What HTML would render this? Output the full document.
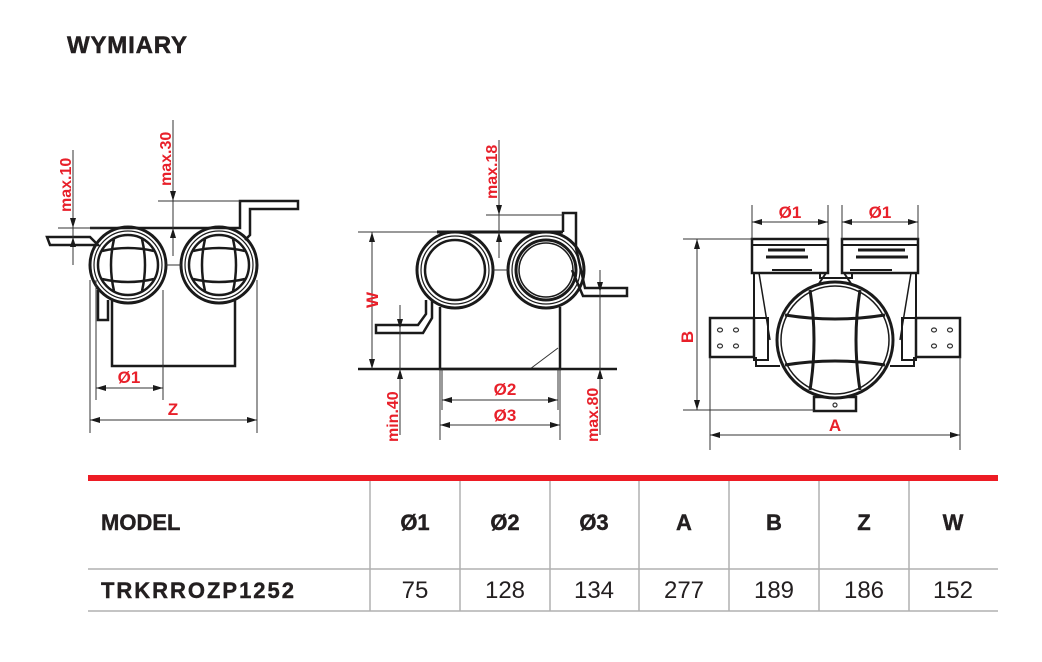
<!DOCTYPE html>
<html><head><meta charset="utf-8"><style>
html,body{margin:0;padding:0;background:#fff;width:1042px;height:662px;overflow:hidden}
svg{display:block}
.t{font-family:"Liberation Sans",sans-serif;font-weight:bold;fill:#e8202a}
.k{stroke:#1a1a1a;fill:none}
.d{stroke:#333;stroke-width:1;fill:none}
.th{font-family:"Liberation Sans",sans-serif;font-weight:bold;font-size:22px;fill:#231f20;stroke:#231f20;stroke-width:0.4}
.td{font-family:"Liberation Sans",sans-serif;font-size:24px;fill:#231f20}
</style></head><body>
<svg width="1042" height="662" viewBox="0 0 1042 662" xmlns="http://www.w3.org/2000/svg">
<defs>
<marker id="a" viewBox="0 0 10 6" refX="10" refY="3" markerWidth="10" markerHeight="6" orient="auto-start-reverse" markerUnits="userSpaceOnUse"><path d="M0,0L10,3L0,6z" fill="#1a1a1a"/></marker>
<g id="wheel">
<circle r="38" class="k" stroke-width="3"/>
<circle r="34" class="k" stroke-width="1.2"/>
<circle r="30" class="k" stroke-width="2.5"/>
<path d="M-14,-26Q-20,0 -14,26M14,-26Q20,0 14,26M-26,-14Q0,-20 26,-14M-26,14Q0,20 26,14" class="k" stroke-width="2.5"/>
</g>
</defs>
<text x="67" y="53" style="font-family:'Liberation Sans',sans-serif;font-weight:bold;font-size:24px;fill:#231f20;stroke:#231f20;stroke-width:0.5" textLength="120">WYMIARY</text>

<!-- Drawing 1 -->
<g>
<path d="M90,228H240V201H298V209H250V235L245,240" class="k" stroke-width="2.5"/>
<path d="M47,237H90L98,245H50Z" class="k" stroke-width="2.5"/>
<path d="M98,290V320H108V300" class="k" stroke-width="2.5"/>
<path d="M112,300V366H235V300" class="k" stroke-width="2.5"/>
<use href="#wheel" x="128" y="265"/>
<use href="#wheel" x="219" y="265"/>
<line x1="166" y1="265" x2="181" y2="265" class="d"/>
<line x1="73" y1="150" x2="73" y2="265" class="d"/>
<line x1="73" y1="212" x2="73" y2="228" class="d" marker-end="url(#a)"/>
<line x1="73" y1="258" x2="73" y2="237" class="d" marker-end="url(#a)"/>
<line x1="58" y1="228" x2="100" y2="228" class="d"/>
<line x1="173" y1="120" x2="173" y2="256" class="d"/>
<line x1="173" y1="185" x2="173" y2="201" class="d" marker-end="url(#a)"/>
<line x1="173" y1="248" x2="173" y2="228" class="d" marker-end="url(#a)"/>
<line x1="158" y1="201" x2="240" y2="201" class="d"/>
<text class="t" font-size="16" transform="translate(71,212) rotate(-90)">max.10</text>
<text class="t" font-size="16" transform="translate(171,186) rotate(-90)">max.30</text>
<line x1="90" y1="280" x2="90" y2="433" class="d"/>
<line x1="96" y1="280" x2="96" y2="400" class="d"/>
<line x1="163" y1="290" x2="163" y2="400" class="d"/>
<line x1="257" y1="280" x2="257" y2="433" class="d"/>
<line x1="96" y1="388" x2="163" y2="388" class="d" marker-start="url(#a)" marker-end="url(#a)"/>
<line x1="90" y1="420" x2="257" y2="420" class="d" marker-start="url(#a)" marker-end="url(#a)"/>
<text class="t" font-size="17" x="129" y="383" text-anchor="middle">Ø1</text>
<text class="t" font-size="17" x="173" y="415" text-anchor="middle">Z</text>
</g>

<!-- Drawing 2 -->
<g>
<path d="M437,232H563" class="k" stroke-width="3"/>
<path d="M563,232V213H576V248L585,288H627V296H583L572,270" class="k" stroke-width="2.5"/>
<path d="M432,300V318L423,333H376V325H418L426,314V300" class="k" stroke-width="2.5"/>
<path d="M440,307V369H560V307" class="k" stroke-width="2.5"/>
<line x1="530" y1="369" x2="558" y2="348" class="d"/>
<g transform="translate(455,270)"><circle r="38" class="k" stroke-width="3"/><circle r="34" class="k" stroke-width="1.2"/><circle r="30" class="k" stroke-width="2.5"/></g>
<g transform="translate(546,270)"><circle r="38" class="k" stroke-width="3"/><circle r="34" class="k" stroke-width="1.2"/><circle r="30" class="k" stroke-width="3"/><circle r="27" class="k" stroke-width="1.5"/></g>
<line x1="493" y1="270" x2="508" y2="270" class="d"/>
<line x1="358" y1="369" x2="617" y2="369" class="k" stroke-width="2.5"/>
<line x1="358" y1="232" x2="437" y2="232" class="d"/>
<line x1="372" y1="232" x2="372" y2="369" class="d" marker-start="url(#a)" marker-end="url(#a)"/>
<text class="t" font-size="17" transform="translate(378,300) rotate(-90)" text-anchor="middle">W</text>
<line x1="486" y1="215" x2="563" y2="215" class="d"/>
<line x1="499" y1="140" x2="499" y2="258" class="d"/>
<line x1="499" y1="200" x2="499" y2="215" class="d" marker-end="url(#a)"/>
<line x1="499" y1="250" x2="499" y2="232" class="d" marker-end="url(#a)"/>
<text class="t" font-size="16" transform="translate(497,199) rotate(-90)">max.18</text>
<line x1="400" y1="305" x2="400" y2="435" class="d"/>
<line x1="400" y1="315" x2="400" y2="329" class="d" marker-end="url(#a)"/>
<line x1="400" y1="385" x2="400" y2="369" class="d" marker-end="url(#a)"/>
<text class="t" font-size="16" transform="translate(398,442) rotate(-90)">min.40</text>
<line x1="600" y1="270" x2="600" y2="435" class="d"/>
<line x1="600" y1="280" x2="600" y2="292" class="d" marker-end="url(#a)"/>
<line x1="600" y1="385" x2="600" y2="369" class="d" marker-end="url(#a)"/>
<text class="t" font-size="16" transform="translate(598,442) rotate(-90)">max.80</text>
<line x1="440" y1="369" x2="440" y2="440" class="d"/>
<line x1="442" y1="369" x2="442" y2="410" class="d"/>
<line x1="558" y1="369" x2="558" y2="410" class="d"/>
<line x1="560" y1="369" x2="560" y2="440" class="d"/>
<line x1="442" y1="400" x2="558" y2="400" class="d" marker-start="url(#a)" marker-end="url(#a)"/>
<line x1="440" y1="425" x2="560" y2="425" class="d" marker-start="url(#a)" marker-end="url(#a)"/>
<text class="t" font-size="17" x="505" y="395" text-anchor="middle">Ø2</text>
<text class="t" font-size="17" x="505" y="421" text-anchor="middle">Ø3</text>
</g>

<!-- Drawing 3 -->
<g>
<rect x="752" y="239" width="76" height="34" class="k" stroke-width="2.5"/>
<rect x="842" y="239" width="76" height="34" class="k" stroke-width="2.5"/>
<rect x="752" y="239" width="76" height="6" class="k" stroke-width="2"/>
<rect x="842" y="239" width="76" height="6" class="k" stroke-width="2"/>
<path d="M768,250H805M766,257H808M858,250H905M856,257H908" class="k" stroke-width="3"/>
<path d="M772,270H812M850,270H892" class="k" stroke-width="2"/>
<path d="M754,273V318M826,273L808,300M916,273V318M844,273L862,300" class="k" stroke-width="2"/>
<path d="M759,273L770,340M911,273L900,340" class="k" stroke-width="1.5"/>
<path d="M820,273V278H852V273" class="k" stroke-width="2"/>
<rect x="710" y="318" width="44" height="39" class="k" stroke-width="2.5"/>
<rect x="916" y="318" width="44" height="39" class="k" stroke-width="2.5"/>
<rect x="754" y="318" width="14" height="42" class="k" stroke-width="2"/>
<rect x="902" y="318" width="14" height="42" class="k" stroke-width="2"/>
<path d="M756,357V366H780M914,357V366H890" class="k" stroke-width="2"/>
<g fill="none" stroke="#333" stroke-width="1.2">
<ellipse cx="720" cy="330" rx="2.5" ry="2"/><ellipse cx="736" cy="330" rx="2.5" ry="2"/><ellipse cx="720" cy="346" rx="2.5" ry="2"/><ellipse cx="736" cy="346" rx="2.5" ry="2"/>
<ellipse cx="934" cy="330" rx="2.5" ry="2"/><ellipse cx="950" cy="330" rx="2.5" ry="2"/><ellipse cx="934" cy="346" rx="2.5" ry="2"/><ellipse cx="950" cy="346" rx="2.5" ry="2"/>
</g>
<rect x="814" y="397" width="42" height="14" class="k" stroke-width="2.5" fill="#fff"/>
<circle cx="835" cy="405" r="2" fill="none" stroke="#333" stroke-width="1.2"/>
<g transform="translate(835,340)">
<circle r="58" fill="#fff" stroke="#1a1a1a" stroke-width="3"/>
<circle r="54" class="k" stroke-width="1.5"/>
<path d="M-25,-50Q-17,0 -25,50M25,-50Q17,0 25,50M-50,-25Q0,-17 50,-25M-50,25Q0,17 50,25" class="k" stroke-width="3"/>
</g>
<line x1="752" y1="205" x2="752" y2="239" class="d"/>
<line x1="828" y1="205" x2="828" y2="239" class="d"/>
<line x1="842" y1="205" x2="842" y2="239" class="d"/>
<line x1="918" y1="205" x2="918" y2="239" class="d"/>
<line x1="752" y1="222" x2="828" y2="222" class="d" marker-start="url(#a)" marker-end="url(#a)"/>
<line x1="842" y1="222" x2="918" y2="222" class="d" marker-start="url(#a)" marker-end="url(#a)"/>
<text class="t" font-size="17" x="790" y="218" text-anchor="middle">Ø1</text>
<text class="t" font-size="17" x="880" y="218" text-anchor="middle">Ø1</text>
<line x1="683" y1="239" x2="752" y2="239" class="d"/>
<line x1="683" y1="410" x2="814" y2="410" class="d"/>
<line x1="697" y1="239" x2="697" y2="410" class="d" marker-start="url(#a)" marker-end="url(#a)"/>
<text class="t" font-size="17" transform="translate(693,337) rotate(-90)" text-anchor="middle">B</text>
<line x1="710" y1="357" x2="710" y2="450" class="d"/>
<line x1="960" y1="357" x2="960" y2="450" class="d"/>
<line x1="710" y1="435" x2="960" y2="435" class="d" marker-start="url(#a)" marker-end="url(#a)"/>
<text class="t" font-size="17" x="835" y="431" text-anchor="middle">A</text>
</g>

<!-- Table -->
<rect x="88" y="475" width="910" height="6" fill="#ed1c24"/>
<g stroke="#b0b0b0" stroke-width="1.5">
<line x1="88" y1="569" x2="998" y2="569"/>
<line x1="88" y1="611" x2="998" y2="611"/>
<line x1="370" y1="481" x2="370" y2="611"/>
<line x1="460" y1="481" x2="460" y2="611"/>
<line x1="550" y1="481" x2="550" y2="611"/>
<line x1="639" y1="481" x2="639" y2="611"/>
<line x1="729" y1="481" x2="729" y2="611"/>
<line x1="819" y1="481" x2="819" y2="611"/>
<line x1="909" y1="481" x2="909" y2="611"/>
</g>
<text class="th" x="101" y="530">MODEL</text>
<text class="th" x="101" y="598" font-size="24" textLength="193">TRKRROZP1252</text>
<g class="th" text-anchor="middle">
<text x="415" y="530">Ø1</text><text x="505" y="530">Ø2</text><text x="594" y="530">Ø3</text>
<text x="684" y="530">A</text><text x="774" y="530">B</text><text x="864" y="530">Z</text><text x="953" y="530">W</text>
</g>
<g class="td" text-anchor="middle">
<text x="415" y="598">75</text><text x="505" y="598">128</text><text x="594" y="598">134</text>
<text x="684" y="598">277</text><text x="774" y="598">189</text><text x="864" y="598">186</text><text x="953" y="598">152</text>
</g>
</svg>
</body></html>
